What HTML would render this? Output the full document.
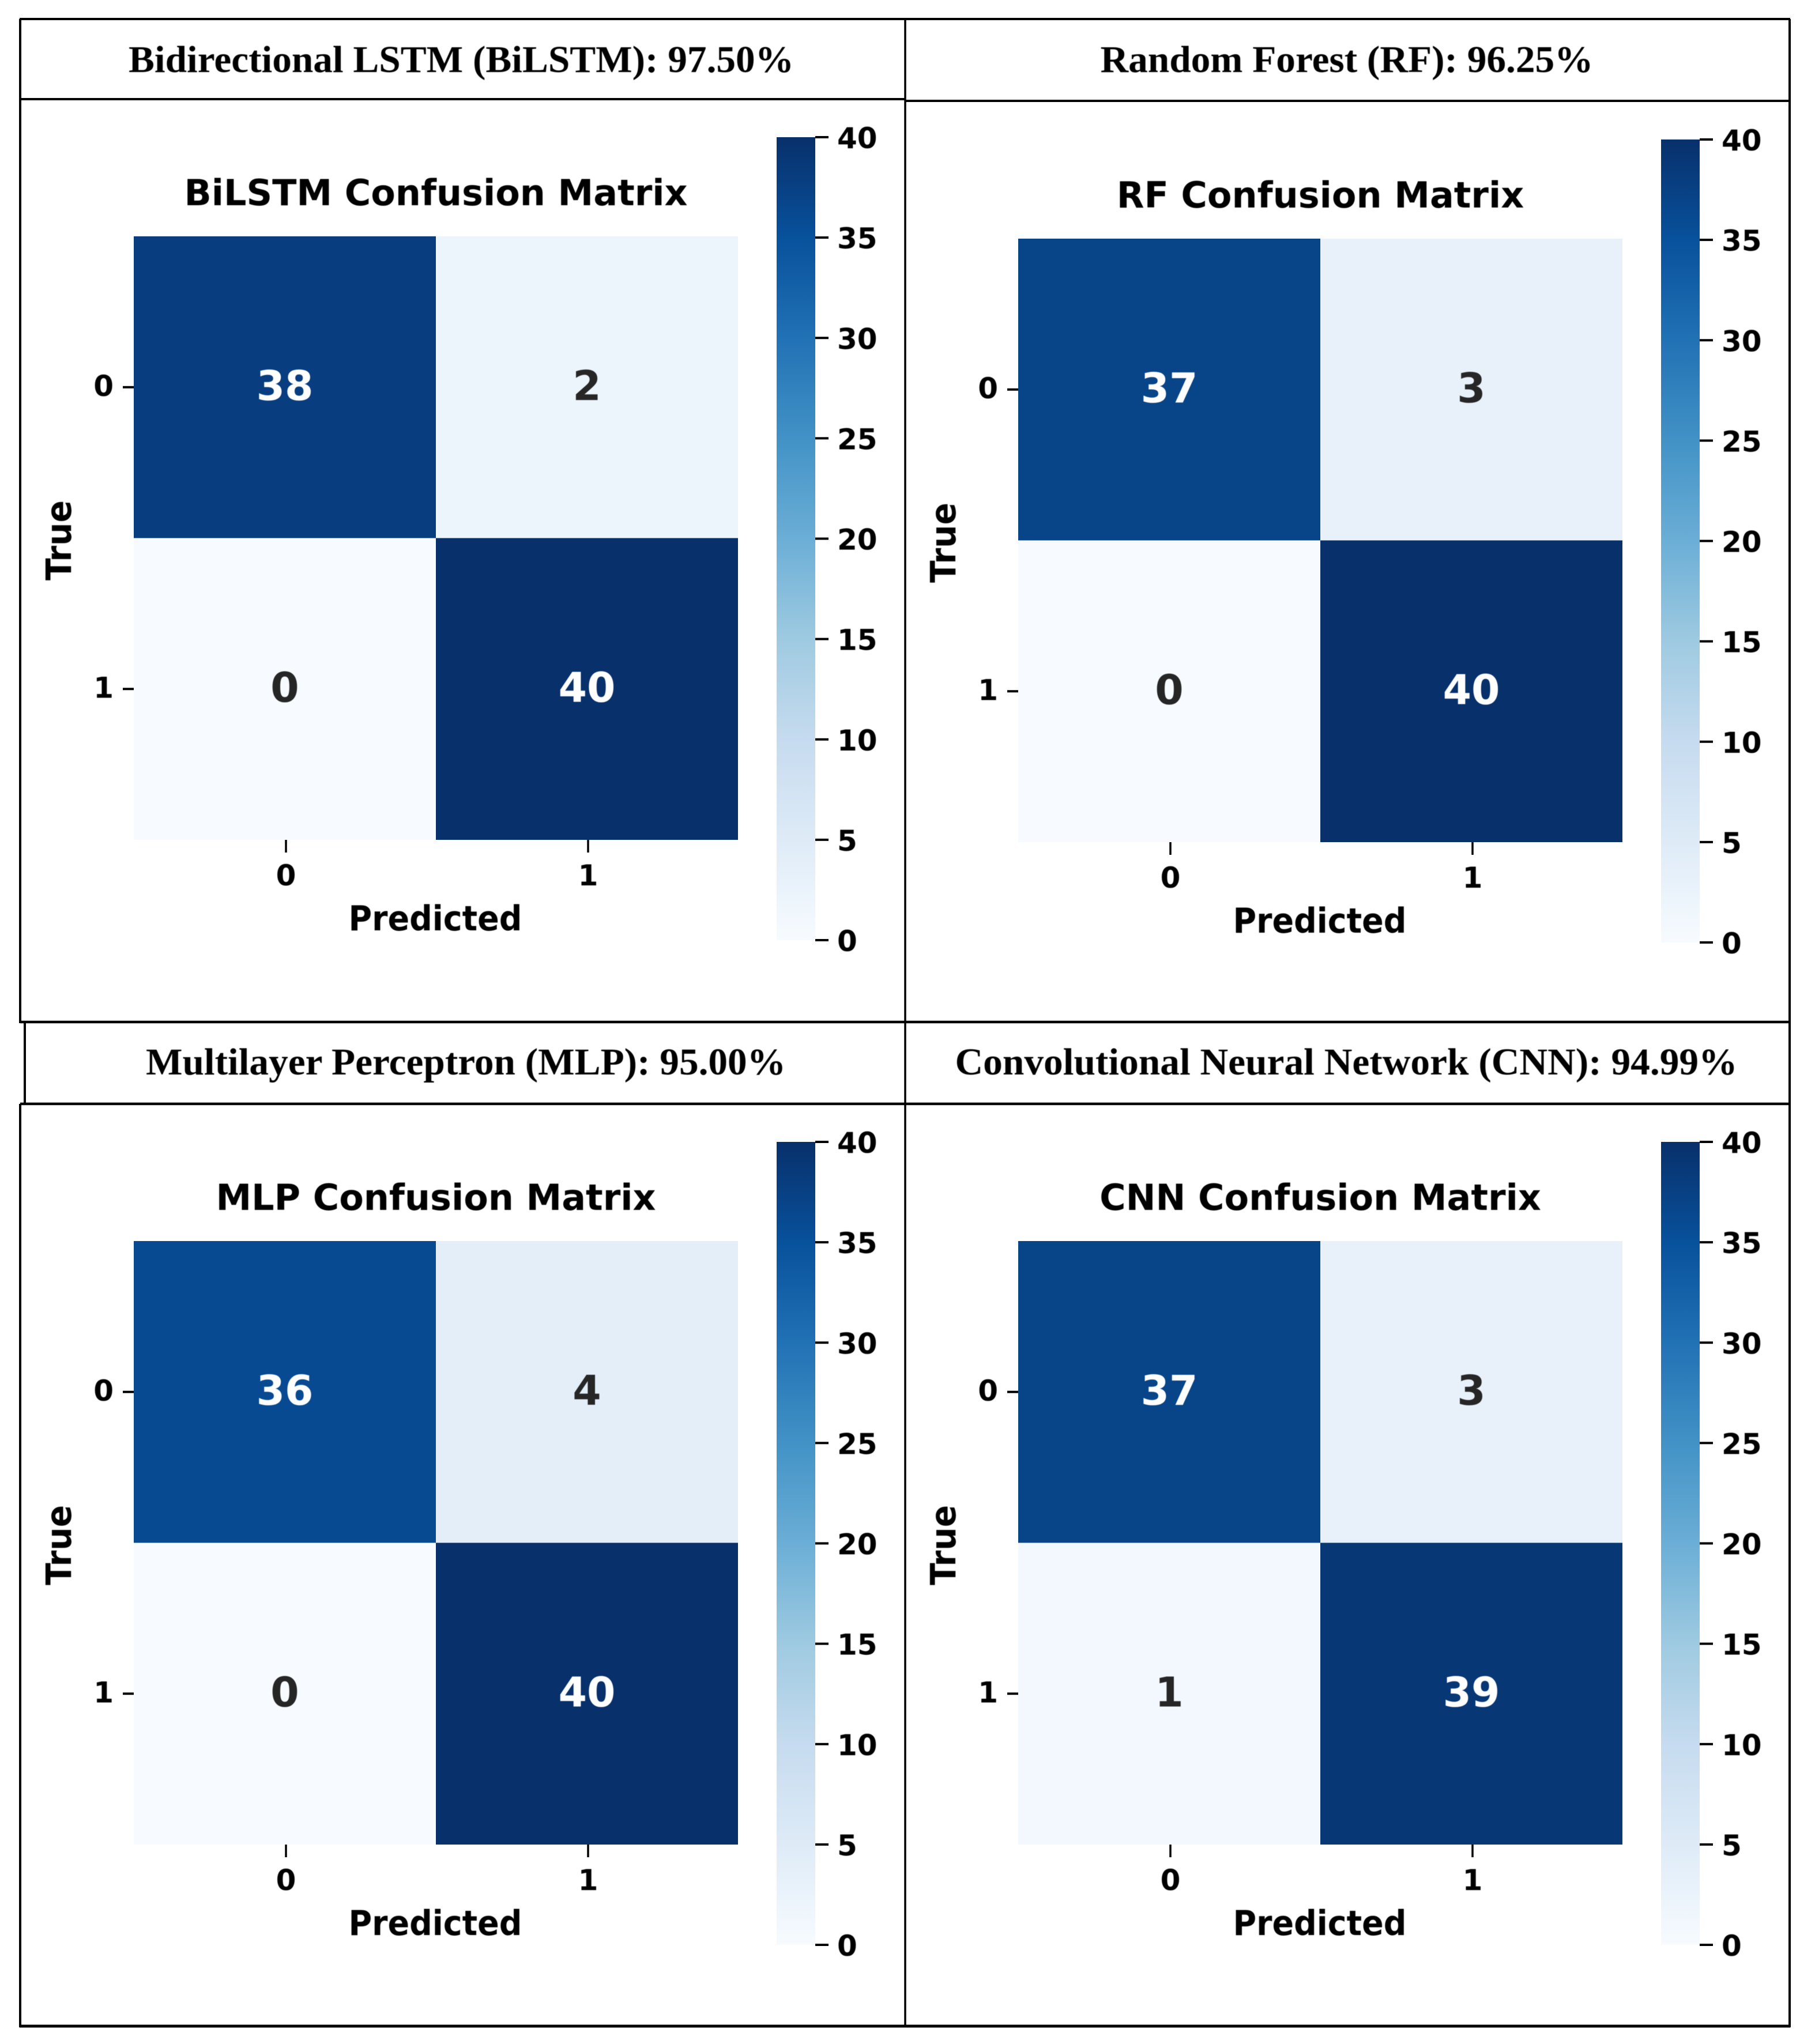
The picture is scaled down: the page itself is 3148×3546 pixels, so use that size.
<!DOCTYPE html>
<html lang="en">
<head>
<meta charset="utf-8">
<title>Confusion matrices for four classifiers</title>
<style>
html,body{margin:0;padding:0;background:#fff;}
svg{display:block;}
text.sans{font-family:"DejaVu Sans",sans-serif;font-weight:700;filter:blur(.6px);}
text.serif{font-family:"Liberation Serif",serif;font-weight:700;filter:blur(.6px);}
</style>
</head>
<body>
<svg id="figure" xmlns="http://www.w3.org/2000/svg" width="3148" height="3546" viewBox="0 0 3148 3546">
  <rect x="0" y="0" width="3148" height="3546" fill="#ffffff"/>
  <defs id="defs"></defs>
  <g stroke="#000" fill="none">
    <line x1="34" y1="33" x2="3105" y2="33" stroke-width="4"/>
    <line x1="35" y1="33" x2="35" y2="1775" stroke-width="4"/>
    <line x1="43" y1="1773" x2="43" y2="1916" stroke-width="4"/>
    <line x1="35" y1="1915" x2="35" y2="3517" stroke-width="4"/>
    <line x1="3104" y1="33" x2="3104" y2="3517" stroke-width="4"/>
    <line x1="1570" y1="33" x2="1570" y2="3515" stroke-width="3.5"/>
    <line x1="35" y1="172" x2="1570" y2="172" stroke-width="4"/>
    <line x1="1570" y1="175" x2="3104" y2="175" stroke-width="4"/>
    <line x1="35" y1="1773" x2="3104" y2="1773" stroke-width="4.5"/>
    <line x1="35" y1="1915" x2="3104" y2="1915" stroke-width="4.5"/>
    <line x1="34" y1="3515" x2="3105" y2="3515" stroke-width="5"/>
  </g>
  <text class="serif" x="800" y="125" font-size="66" text-anchor="middle" textLength="1154" lengthAdjust="spacingAndGlyphs">Bidirectional LSTM (BiLSTM): 97.50%</text>
  <text class="serif" x="2336" y="125" font-size="66" text-anchor="middle" textLength="855" lengthAdjust="spacingAndGlyphs">Random Forest (RF): 96.25%</text>
  <text class="serif" x="808" y="1864" font-size="66" text-anchor="middle" textLength="1110" lengthAdjust="spacingAndGlyphs">Multilayer Perceptron (MLP): 95.00%</text>
  <text class="serif" x="2335" y="1864" font-size="66" text-anchor="middle" textLength="1357" lengthAdjust="spacingAndGlyphs">Convolutional Neural Network (CNN): 94.99%</text>
  <g id="panel-bilstm" transform="translate(0,0)"></g>
  <g id="panel-rf" transform="translate(1534,4)"></g>
  <g id="panel-mlp" transform="translate(0,1743)"></g>
  <g id="panel-cnn" transform="translate(1534,1743)"></g>
</svg>
<script>
// Chart data
const bilstmValues = [[38, 2], [0, 40]];
const rfValues = [[37, 3], [0, 40]];
const mlpValues = [[36, 4], [0, 40]];
const cnnValues = [[37, 3], [1, 39]];
const classLabels = ['0', '1'];
const colorbarTicks = [0, 5, 10, 15, 20, 25, 30, 35, 40];
const colorbarMin = 0;
const colorbarMax = 40;

// "Blues" colormap anchors
const blues = ['#f7fbff', '#deebf7', '#c6dbef', '#9ecae1', '#6baed6', '#4292c6', '#2171b5', '#08519c', '#08306b'];

const NS = 'http://www.w3.org/2000/svg';
function make(parent, tag, attrs, content) {
  const node = document.createElementNS(NS, tag);
  for (const key in attrs) node.setAttribute(key, attrs[key]);
  if (content !== undefined) node.textContent = content;
  parent.appendChild(node);
  return node;
}
function hexToRgb(hex) {
  return [1, 3, 5].map(function (i) { return parseInt(hex.slice(i, i + 2), 16); });
}
function colorFor(value) {
  const t = Math.max(0, Math.min(1, (value - colorbarMin) / (colorbarMax - colorbarMin))) * (blues.length - 1);
  const i = Math.min(blues.length - 2, Math.floor(t));
  const a = hexToRgb(blues[i]);
  const b = hexToRgb(blues[i + 1]);
  const f = t - i;
  const c = a.map(function (v, k) { return Math.round(v + (b[k] - v) * f); });
  return 'rgb(' + c.join(',') + ')';
}
function isDark(value) {
  return (value - colorbarMin) / (colorbarMax - colorbarMin) > 0.5;
}

// Axis geometry shared by every panel (local coordinates)
const plotLeft = 232;
const plotTop = 410;
const cellWidth = 524;
const cellHeight = 523.5;
const barLeft = 1347;
const barWidth = 67;
const barTop = 238;
const barBottom = 1631;
function xScale(col) { return plotLeft + col * cellWidth; }
function yScale(row) { return plotTop + row * cellHeight; }
function barScale(v) { return barBottom - (v - colorbarMin) / (colorbarMax - colorbarMin) * (barBottom - barTop); }

const defs = document.getElementById('defs');
const gradient = make(defs, 'linearGradient', { id: 'blues-gradient', x1: '0', y1: '1', x2: '0', y2: '0' });
blues.forEach(function (color, i) {
  make(gradient, 'stop', { offset: String(i / (blues.length - 1)), 'stop-color': color });
});

function drawPanel(panelId, key, title, values) {
  const panel = document.getElementById(panelId);

  const titleNode = make(panel, 'text', { class: 'sans', x: 756, y: 356, 'font-size': 62, 'text-anchor': 'middle' }, title);
  
  

  values.forEach(function (rowValues, row) {
    rowValues.forEach(function (value, col) {
      const cell = make(panel, 'rect', { x: xScale(col), y: yScale(row), width: cellWidth, height: cellHeight, fill: colorFor(value) });
      
      

      const note = make(panel, 'text', {
        class: 'sans',
        x: xScale(col) + cellWidth / 2,
        y: yScale(row) + cellHeight / 2 + 22,
        'font-size': 71,
        'text-anchor': 'middle',
        fill: isDark(value) ? '#ffffff' : '#262626'
      }, String(value));
      
      
    });
  });

  classLabels.forEach(function (label, i) {
    const xCenter = xScale(i) + cellWidth / 2;
    const yCenter = yScale(i) + cellHeight / 2;

    const xTick = make(panel, 'line', { x1: xCenter + 2, y1: yScale(2), x2: xCenter + 2, y2: yScale(2) + 22, stroke: '#000', 'stroke-width': 3.5 });
    
    

    const xLabel = make(panel, 'text', { class: 'sans', x: xCenter + 2, y: yScale(2) + 79, 'font-size': 50, 'text-anchor': 'middle' }, label);
    
    

    const yTick = make(panel, 'line', { x1: plotLeft - 19, y1: yCenter, x2: plotLeft, y2: yCenter, stroke: '#000', 'stroke-width': 4 });
    
    

    const yLabel = make(panel, 'text', { class: 'sans', x: plotLeft - 35, y: yCenter + 15, 'font-size': 50, 'text-anchor': 'end' }, label);
    
    
  });

  const xTitle = make(panel, 'text', { class: 'sans', x: 755, y: yScale(2) + 157, 'font-size': 60, 'text-anchor': 'middle', textLength: 301, lengthAdjust: 'spacingAndGlyphs' }, 'Predicted');
  
  

  const yMid = plotTop + cellHeight + 4;
  const yTitle = make(panel, 'text', { class: 'sans', x: 123, y: yMid, 'font-size': 61, 'text-anchor': 'middle', textLength: 139, lengthAdjust: 'spacingAndGlyphs', transform: 'rotate(-90 123 ' + yMid + ')' }, 'True');
  
  

  const bar = make(panel, 'rect', { x: barLeft, y: barScale(colorbarMax), width: barWidth, height: barScale(colorbarMin) - barScale(colorbarMax), fill: 'url(#blues-gradient)' });
  
  

  colorbarTicks.forEach(function (tick) {
    const y = barScale(tick);
    const mark = make(panel, 'line', { x1: barLeft + barWidth, y1: y, x2: barLeft + barWidth + 23, y2: y, stroke: '#000', 'stroke-width': 4 });
    
    

    const label = make(panel, 'text', { class: 'sans', x: barLeft + barWidth + 38, y: y + 19, 'font-size': 50 }, String(tick));
    
    
  });
}

drawPanel('panel-bilstm', 'bilstm', 'BiLSTM Confusion Matrix', bilstmValues);
drawPanel('panel-rf', 'rf', 'RF Confusion Matrix', rfValues);
drawPanel('panel-mlp', 'mlp', 'MLP Confusion Matrix', mlpValues);
drawPanel('panel-cnn', 'cnn', 'CNN Confusion Matrix', cnnValues);
</script>
</body>
</html>
